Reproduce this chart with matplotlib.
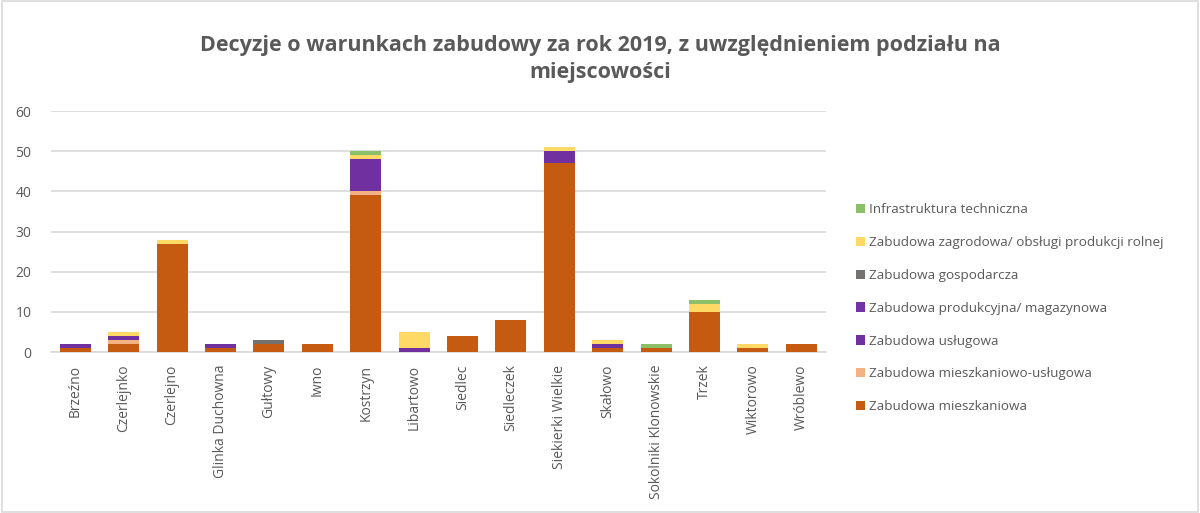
import numpy as np
import matplotlib
matplotlib.use("Agg")
import matplotlib.pyplot as plt
from matplotlib.patches import Rectangle

plt.rcParams['font.family'] = ['Open Sans', 'DejaVu Sans']

# miejscowosci
places = ['Brzeźno', 'Czerlejnko', 'Czerlejno', 'Glinka Duchowna', 'Gułtowy', 'Iwno',
          'Kostrzyn', 'Libartowo', 'Siedlec', 'Siedleczek', 'Siekierki Wielkie', 'Skałowo',
          'Sokolniki Klonowskie', 'Trzek', 'Wiktorowo', 'Wróblewo']

# series, bottom to top
mieszkaniowa    = [1, 2, 27, 1, 2, 2, 39, 0, 4, 8, 47, 1, 1, 10, 1, 2]
mieszk_uslugowa = [0, 1, 0, 0, 0, 0, 1, 0, 0, 0, 0, 0, 0, 0, 0, 0]
uslugowa        = [1, 1, 0, 1, 0, 0, 8, 1, 0, 0, 3, 1, 0, 0, 0, 0]
produkcyjna     = [0, 0, 0, 0, 0, 0, 0, 0, 0, 0, 0, 0, 0, 0, 0, 0]
gospodarcza     = [0, 0, 0, 0, 1, 0, 0, 0, 0, 0, 0, 0, 0, 0, 0, 0]
zagrodowa       = [0, 1, 1, 0, 0, 0, 1, 4, 0, 0, 1, 1, 0, 2, 1, 0]
infrastruktura  = [0, 0, 0, 0, 0, 0, 1, 0, 0, 0, 0, 0, 1, 1, 0, 0]

series = [
    ('Zabudowa mieszkaniowa', mieszkaniowa, '#C55A11'),
    ('Zabudowa mieszkaniowo-usługowa', mieszk_uslugowa, '#F4B183'),
    ('Zabudowa usługowa', uslugowa, '#7030A0'),
    ('Zabudowa produkcyjna/ magazynowa', produkcyjna, '#7532A4'),
    ('Zabudowa gospodarcza', gospodarcza, '#767171'),
    ('Zabudowa zagrodowa/ obsługi produkcji rolnej', zagrodowa, '#FFD966'),
    ('Infrastruktura techniczna', infrastruktura, '#8CC068'),
]

fig = plt.figure(figsize=(12, 5.13), dpi=100)
ax = fig.add_axes([0.0425, 0.3138, 0.6455, 0.4698])

x = np.arange(len(places))
bottom = np.zeros(len(places))
handles = []
for name, vals, col in series:
    vals = np.array(vals, dtype=float)
    b = ax.bar(x, vals, 0.64, bottom=bottom, color=col, label=name, zorder=3)
    handles.append(b)
    bottom += vals

ax.set_xlim(-0.5, len(places) - 0.5)
ax.set_ylim(0, 60)
ax.set_yticks(range(0, 61, 10))
ax.yaxis.grid(True, color='#D9D9D9', linewidth=1.2, zorder=0)
for s in ['top', 'right', 'left']:
    ax.spines[s].set_visible(False)
ax.spines['bottom'].set_color('#D9D9D9')
ax.spines['bottom'].set_linewidth(1.2)
ax.tick_params(axis='both', length=0, colors='#595959', labelsize=10)
ax.tick_params(axis='y', pad=14)
ax.tick_params(axis='x', pad=9)
ax.set_xticks(x)
ax.set_xticklabels(places, rotation=90, color='#595959')

fig.text(0.5, 0.885, 'Decyzje o warunkach zabudowy za rok 2019, z uwzględnieniem podziału na\nmiejscowości',
         ha='center', va='center', fontsize=15.5, fontweight='bold', color='#595959', linespacing=1.4)

leg = fig.legend(handles[::-1], [s[0] for s in series][::-1], loc='upper left',
                 bbox_to_anchor=(0.703, 0.627), frameon=False, fontsize=9.7,
                 handlelength=0.7, handleheight=0.7, handletextpad=0.3, labelspacing=1.47)
for t in leg.get_texts():
    t.set_color('#595959')

fig.patches.append(Rectangle((0.002, 0.002), 0.996, 0.996, transform=fig.transFigure,
                             fill=False, edgecolor='#D9D9D9', linewidth=1.2))

fig.savefig('out.png', dpi=100)
